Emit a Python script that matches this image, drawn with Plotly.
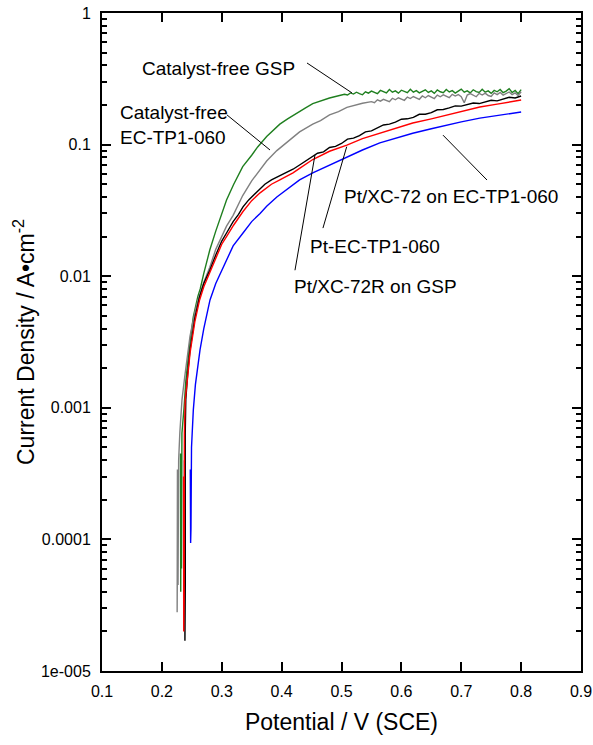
import math
import plotly.graph_objects as go

# ---------------- data ----------------
x_ticks = [0.1, 0.2, 0.3, 0.4, 0.5, 0.6, 0.7, 0.8, 0.9]
x_tick_text = ["0.1", "0.2", "0.3", "0.4", "0.5", "0.6", "0.7", "0.8", "0.9"]
y_tick_vals = [1, 0.1, 0.01, 0.001, 0.0001, 0.00001]
y_tick_text = ["1", "0.1", "0.01", "0.001", "0.0001", "1e-005"]

# Catalyst-free GSP (green)
gsp_v = [0.2310, 0.2315, 0.2322, 0.2328, 0.2335, 0.2370, 0.2400, 0.2450, 0.2525, 0.2600,
         0.2640, 0.2700, 0.2800, 0.2900, 0.3000, 0.3080, 0.3200, 0.3350, 0.3500, 0.3600,
         0.3750, 0.3850, 0.3970, 0.4100, 0.4200, 0.4300, 0.4400, 0.4520, 0.4600, 0.4700,
         0.4800, 0.4900,
         0.500, 0.505, 0.510, 0.515, 0.520, 0.525, 0.530, 0.535, 0.540, 0.545,
         0.550, 0.555, 0.560, 0.565, 0.570, 0.575, 0.580, 0.585, 0.590, 0.595,
         0.600, 0.605, 0.610, 0.615, 0.620, 0.625, 0.630, 0.635, 0.640, 0.645,
         0.650, 0.655, 0.660, 0.665, 0.670, 0.675, 0.680, 0.685, 0.690, 0.695,
         0.700, 0.705, 0.710, 0.715, 0.720, 0.725, 0.730, 0.735, 0.740, 0.745,
         0.750, 0.755, 0.760, 0.765, 0.770, 0.775, 0.780, 0.785, 0.790, 0.795, 0.800]
gsp_i = [4.5e-4, 4.0e-5, 3.5e-4, 6.0e-5, 6.4e-4, 1.0e-3, 1.6e-3, 2.7e-3, 4.9e-3, 7.0e-3,
         8.0e-3, 1.05e-2, 1.58e-2, 2.2e-2, 3.0e-2, 3.8e-2, 5.0e-2, 6.8e-2, 8.3e-2, 9.6e-2,
         0.115, 0.128, 0.143, 0.157, 0.168, 0.180, 0.190, 0.205, 0.211, 0.219,
         0.226, 0.232,
         0.236, 0.241, 0.238, 0.247, 0.242, 0.250, 0.244, 0.239, 0.252, 0.246,
         0.255, 0.249, 0.244, 0.258, 0.251, 0.247, 0.262, 0.250, 0.256, 0.246,
         0.259, 0.253, 0.248, 0.263, 0.250, 0.257, 0.247, 0.254, 0.261, 0.249,
         0.256, 0.245, 0.260, 0.252, 0.248, 0.262, 0.251, 0.257, 0.246, 0.255,
         0.264, 0.250, 0.256, 0.247, 0.261, 0.253, 0.249, 0.263, 0.250, 0.256,
         0.245, 0.258, 0.252, 0.262, 0.248, 0.255, 0.266, 0.249, 0.258, 0.244, 0.262]

# Catalyst-free EC-TP1-060 (grey)
ec_v = [0.2260, 0.2255, 0.2265, 0.2270, 0.2280, 0.2300, 0.2336, 0.2380, 0.2420, 0.2470,
        0.2550, 0.2600, 0.2700, 0.2800, 0.2900, 0.3000, 0.3080, 0.3190, 0.3350, 0.3500,
        0.3640, 0.3750, 0.3920, 0.4100, 0.4300, 0.4520, 0.4650, 0.4800, 0.4950, 0.5090,
        0.5200, 0.5350,
        0.550, 0.555, 0.560, 0.565, 0.570, 0.575, 0.580, 0.585, 0.590, 0.595,
        0.600, 0.605, 0.610, 0.615, 0.620, 0.625, 0.630, 0.635, 0.640, 0.645,
        0.650, 0.655, 0.660, 0.665, 0.670, 0.675, 0.680, 0.685, 0.690, 0.695,
        0.700, 0.705, 0.710, 0.715, 0.720, 0.725, 0.730, 0.735, 0.740, 0.745,
        0.750, 0.755, 0.760, 0.765, 0.770, 0.775, 0.780, 0.785, 0.790, 0.795, 0.800]
ec_i = [3.4e-4, 2.8e-5, 2.2e-4, 4.5e-5, 4.0e-4, 6.5e-4, 1.15e-3, 1.7e-3, 2.4e-3, 3.5e-3,
        5.3e-3, 6.5e-3, 9.0e-3, 1.17e-2, 1.6e-2, 2.0e-2, 2.4e-2, 2.9e-2, 4.1e-2, 5.3e-2,
        6.5e-2, 7.5e-2, 9.0e-2, 0.105, 0.125, 0.143, 0.152, 0.168, 0.178, 0.192,
        0.198, 0.206,
        0.212, 0.208, 0.219, 0.214, 0.221, 0.216, 0.212, 0.225, 0.219, 0.227,
        0.221, 0.217, 0.230, 0.224, 0.232, 0.225, 0.221, 0.234, 0.227, 0.236,
        0.229, 0.224, 0.238, 0.231, 0.239, 0.232, 0.227, 0.241, 0.234, 0.240,
        0.231, 0.208, 0.238, 0.244, 0.236, 0.231, 0.245, 0.238, 0.246, 0.236,
        0.232, 0.247, 0.240, 0.249, 0.238, 0.244, 0.251, 0.240, 0.247, 0.236, 0.252]

# Pt/XC-72R on GSP (black)
xc72r_v = [0.2378, 0.2385, 0.2388, 0.2391, 0.2390, 0.2400, 0.2430, 0.2470, 0.2550, 0.2630,
           0.2700, 0.2800, 0.2900, 0.3000, 0.3080, 0.3190, 0.3280, 0.3355, 0.3450, 0.3500,
           0.3570, 0.3640, 0.3720, 0.3830, 0.3970, 0.4080, 0.4190, 0.4300, 0.4400,
           0.45, 0.46, 0.47, 0.48, 0.49, 0.50, 0.51, 0.52, 0.53, 0.54,
           0.55, 0.56, 0.57, 0.58, 0.59, 0.60, 0.61, 0.62, 0.63, 0.64,
           0.65, 0.66, 0.67, 0.68, 0.69, 0.70, 0.71, 0.72, 0.73, 0.74,
           0.75, 0.76, 0.77, 0.78, 0.79, 0.80]
xc72r_i = [4.0e-4, 1.7e-5, 2.5e-4, 4.5e-5, 6.4e-4, 1.15e-3, 1.8e-3, 2.75e-3, 4.8e-3, 7.0e-3,
           8.8e-3, 1.11e-2, 1.45e-2, 1.85e-2, 2.13e-2, 2.6e-2, 2.95e-2, 3.36e-2, 3.8e-2, 4.0e-2,
           4.3e-2, 4.6e-2, 5.0e-2, 5.4e-2, 5.8e-2, 6.2e-2, 6.5e-2, 7.0e-2, 7.5e-2,
           0.081, 0.086, 0.088, 0.095, 0.097, 0.102, 0.110, 0.112, 0.117, 0.125,
           0.127, 0.133, 0.141, 0.143, 0.148, 0.156, 0.157, 0.161, 0.170, 0.170,
           0.175, 0.184, 0.185, 0.190, 0.197, 0.196, 0.202, 0.207, 0.205, 0.211,
           0.217, 0.215, 0.222, 0.229, 0.226, 0.234]

# Pt-EC-TP1-060 (red)
ptec_v = [0.2362, 0.2365, 0.2368, 0.2372, 0.2376, 0.2390, 0.2430, 0.2470, 0.2550, 0.2630,
          0.2700, 0.2804, 0.2900, 0.3000, 0.3080, 0.3200, 0.3355, 0.3500, 0.3640, 0.3830,
          0.3970, 0.4190, 0.4300, 0.4520, 0.4800, 0.5090, 0.5350, 0.5640, 0.5900, 0.6190,
          0.6500, 0.6760, 0.7000, 0.7310, 0.7600, 0.8000]
ptec_i = [3.0e-4, 2.0e-5, 2.0e-4, 3.5e-5, 6.4e-4, 1.15e-3, 1.7e-3, 2.6e-3, 4.5e-3, 6.6e-3,
          8.3e-3, 1.07e-2, 1.38e-2, 1.75e-2, 2.0e-2, 2.45e-2, 3.1e-2, 3.75e-2, 4.3e-2, 5.0e-2,
          5.4e-2, 6.1e-2, 6.6e-2, 7.7e-2, 8.9e-2, 9.9e-2, 0.111, 0.122, 0.134, 0.146,
          0.157, 0.168, 0.178, 0.193, 0.203, 0.218]

# Pt/XC-72 on EC-TP1-060 (blue)
xc72_v = [0.2475, 0.2480, 0.2483, 0.2486, 0.2495, 0.2525, 0.2560, 0.2600, 0.2637, 0.2700,
          0.2750, 0.2804, 0.2900, 0.3000, 0.3080, 0.3190, 0.3355, 0.3500, 0.3640, 0.3750,
          0.3920, 0.4070, 0.4190, 0.4300, 0.4520, 0.4800, 0.5090, 0.5350, 0.5640, 0.5900,
          0.6190, 0.6500, 0.6760, 0.7000, 0.7310, 0.7600, 0.8000]
xc72_i = [3.4e-4, 9.4e-5, 3.0e-4, 1.2e-4, 5.0e-4, 9.6e-4, 1.5e-3, 2.1e-3, 2.75e-3, 4.0e-3,
          5.2e-3, 6.6e-3, 8.8e-3, 1.1e-2, 1.33e-2, 1.7e-2, 2.13e-2, 2.6e-2, 3.0e-2, 3.4e-2,
          4.0e-2, 4.5e-2, 5.0e-2, 5.4e-2, 6.1e-2, 7.0e-2, 8.0e-2, 9.1e-2, 0.103, 0.112,
          0.122, 0.132, 0.141, 0.149, 0.159, 0.167, 0.177]

series_names = ["Catalyst-free GSP", "Catalyst-free EC-TP1-060", "Pt/XC-72R on GSP",
                "Pt-EC-TP1-060", "Pt/XC-72 on EC-TP1-060"]
series_v = [gsp_v, ec_v, xc72r_v, ptec_v, xc72_v]
series_i = [gsp_i, ec_i, xc72r_i, ptec_i, xc72_i]
series_colors = ["#1f7f1f", "#808080", "#000000", "#ff0000", "#0000ff"]

# callout labels (text position and leader line, in V and A cm-2)
label_text = ["Catalyst-free GSP", "Catalyst-free<br>EC-TP1-060", "Pt/XC-72 on EC-TP1-060",
              "Pt-EC-TP1-060", "Pt/XC-72R on GSP"]
label_v = [0.1635, 0.1267, 0.5008, 0.4440, 0.4173]
label_i = [0.382, 0.142, 0.040, 0.0167, 0.0083]
leader_head_v = [0.5175, 0.3806, 0.6695, 0.5087, 0.4557]
leader_head_i = [0.247, 0.091, 0.118, 0.0964, 0.0834]
leader_tail_v = [0.4424, 0.3088, 0.7430, 0.4690, 0.4223]
leader_tail_i = [0.417, 0.168, 0.0538, 0.0232, 0.0111]

# ---------------- figure ----------------
fig = go.Figure()
for name, v, i, c in zip(series_names, series_v, series_i, series_colors):
    fig.add_trace(go.Scatter(x=v, y=i, mode="lines", name=name,
                             line=dict(color=c, width=1.4), showlegend=False))

font_family = "Liberation Sans, Arial, sans-serif"
annotations = []
for t, v, i in zip(label_text, label_v, label_i):
    annotations.append(dict(x=v, y=math.log10(i), xref="x", yref="y", text=t,
                            showarrow=False, xanchor="left", yanchor="middle", align="left",
                            font=dict(size=19, color="black", family=font_family)))

shapes = []
for hv, hi, tv, ti in zip(leader_head_v, leader_head_i, leader_tail_v, leader_tail_i):
    shapes.append(dict(type="line", xref="x", yref="y", x0=tv, y0=ti, x1=hv, y1=hi,
                       line=dict(color="black", width=1)))

minor_vals = [m * 10 ** e for e in range(-5, 0) for m in range(2, 10)]

fig.update_layout(
    width=593, height=745,
    margin=dict(l=102, r=12, t=13, b=74),
    plot_bgcolor="white", paper_bgcolor="white",
    font=dict(family=font_family, color="black"),
    annotations=annotations, shapes=shapes,
)
fig.update_xaxes(
    range=[0.1, 0.9], tickvals=x_ticks, ticktext=x_tick_text, automargin=False,
    ticks="inside", ticklen=9, tickwidth=2, tickcolor="black",
    showline=True, linewidth=2, linecolor="black", mirror="ticks",
    showgrid=False, zeroline=False, tickfont=dict(size=16),
    ticklabelstandoff=5,
    title=dict(text="Potential / V (SCE)", font=dict(size=23), standoff=15),
)
fig.update_yaxes(
    type="log", range=[-5, 0], tickvals=y_tick_vals, ticktext=y_tick_text, automargin=False,
    ticks="inside", ticklen=9, tickwidth=2, tickcolor="black",
    minor=dict(ticks="inside", ticklen=5, tickwidth=1.5, tickcolor="black",
               tickvals=minor_vals, showgrid=False),
    showline=True, linewidth=2, linecolor="black", mirror="ticks",
    showgrid=False, zeroline=False, tickfont=dict(size=16),
    ticklabelstandoff=6,
    title=dict(text="Current Density / A\u2022cm<sup>-2</sup>", font=dict(size=23), standoff=0),
)

fig.write_html("out.html", config={"displayModeBar": False},
               post_script="document.body.style.margin='0';document.body.style.overflow='hidden';")
